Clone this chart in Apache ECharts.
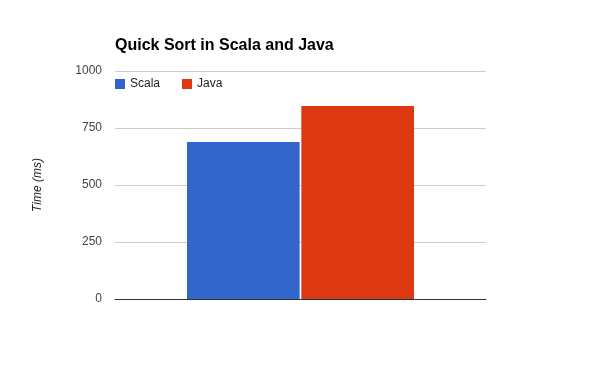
<!DOCTYPE html>
<html><head><meta charset="utf-8">
<script src="https://cdn.jsdelivr.net/npm/echarts@6/dist/echarts.min.js"></script>
<style>html,body{margin:0;padding:0;background:#fff}#c{width:600px;height:371px}</style>
</head><body><div id="c"></div>
<script>
const categories = [''];
const seriesNames = ['Scala', 'Java'];
const scalaValues = [689];
const javaValues = [847];
const yTicks = [0, 250, 500, 750, 1000];
const colors = ['#3366cc', '#dc3912'];

const chart = echarts.init(document.getElementById('c'));
chart.setOption({
  animation: false,
  title: {
    text: 'Quick Sort in Scala and Java',
    left: 110, top: 33,
    textStyle: { fontFamily: 'Liberation Sans, Arial', fontSize: 16, fontWeight: 'bold', color: '#000' }
  },
  legend: {
    left: 110, top: 73,
    itemWidth: 10, itemHeight: 10, itemGap: 22,
    icon: 'rect',
    textStyle: { fontFamily: 'Liberation Sans, Arial', fontSize: 12, color: '#222' },
    data: seriesNames
  },
  grid: { left: 115, right: 114, top: 71, bottom: 72, containLabel: false },
  xAxis: {
    type: 'category', data: categories,
    axisLine: { lineStyle: { color: '#333', width: 1 } },
    axisTick: { show: false }, axisLabel: { show: false }
  },
  yAxis: {
    type: 'value', min: yTicks[0], max: yTicks[yTicks.length - 1], interval: 250,
    name: 'Time (ms)', nameLocation: 'middle', nameGap: 71,
    nameTextStyle: { fontFamily: 'Liberation Sans, Arial', fontSize: 12, fontStyle: 'italic', color: '#222' },
    axisLine: { show: false }, axisTick: { show: false },
    axisLabel: { margin: 13, fontFamily: 'Liberation Sans, Arial', fontSize: 12, color: '#444', formatter: v => String(v) },
    splitLine: { lineStyle: { color: '#cccccc' } }
  },
  series: [
    { name: seriesNames[0], type: 'bar', data: scalaValues, itemStyle: { color: colors[0] }, barGap: '1.5%', barCategoryGap: '38.8%' },
    { name: seriesNames[1], type: 'bar', data: javaValues, itemStyle: { color: colors[1] } }
  ]
});
</script></body></html>
